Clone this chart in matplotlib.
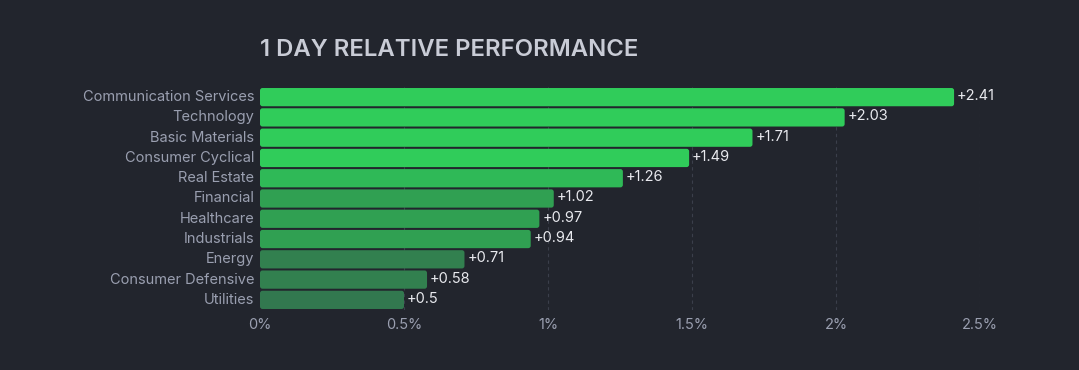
import matplotlib.pyplot as plt
from matplotlib.patches import FancyBboxPatch

sectors = [
    "Communication Services", "Technology", "Basic Materials",
    "Consumer Cyclical", "Real Estate", "Financial", "Healthcare",
    "Industrials", "Energy", "Consumer Defensive", "Utilities",
]
changes = [2.41, 2.03, 1.71, 1.49, 1.26, 1.02, 0.97, 0.94, 0.71, 0.58, 0.5]
value_labels = ["+2.41", "+2.03", "+1.71", "+1.49", "+1.26", "+1.02",
                "+0.97", "+0.94", "+0.71", "+0.58", "+0.5"]
bar_colors = ["#30cc5a", "#30cc5a", "#30cc5a", "#30cc5a", "#2fb957",
              "#30a052", "#30a052", "#30a052", "#32804f", "#32804f",
              "#32784f"]
x_ticks = [0, 0.5, 1, 1.5, 2, 2.5]
x_tick_labels = ["0%", "0.5%", "1%", "1.5%", "2%", "2.5%"]

bg = "#22252d"
plt.rcParams["font.family"] = ["Inter", "DejaVu Sans"]

fig = plt.figure(figsize=(10.79, 3.7), dpi=100, facecolor=bg)
ax = fig.add_axes([260 / 1079, 1 - 310 / 370, 720 / 1079, 223 / 370])
ax.set_facecolor(bg)

ypos = list(range(len(sectors)))
bars = ax.barh(ypos, changes, height=0.9, color=bar_colors, zorder=2)

# swap plain rectangles for slightly rounded ones
px_x = 720 / 2.5
px_y = 223 / len(sectors)
for rect in bars:
    rect.set_visible(False)
    patch = FancyBboxPatch(
        (rect.get_x(), rect.get_y()), rect.get_width(), rect.get_height(),
        boxstyle="round,pad=0,rounding_size=%f" % (2.5 / px_x),
        mutation_aspect=px_x / px_y,
        facecolor=rect.get_facecolor(), edgecolor="none", zorder=2,
    )
    ax.add_patch(patch)

for y, v, lab in zip(ypos, changes, value_labels):
    ax.text(v + 0.01, y - 0.05, lab, va="center", ha="left",
            color="#e8e9ee", fontsize=10.5, zorder=3)

ax.set_xlim(0, 2.5)
ax.set_ylim(len(sectors) - 0.5, -0.5)
ax.set_xticks(x_ticks)
ax.set_xticklabels(x_tick_labels)
ax.set_yticks(ypos)
ax.set_yticklabels(sectors)
ax.tick_params(axis="both", length=0, colors="#9a9fb0", labelsize=10.5)
ax.tick_params(axis="y", pad=4)
ax.tick_params(axis="x", pad=6)
for lab in ax.get_yticklabels():
    lab.set_va("center")

for x in x_ticks[1:]:
    ax.axvline(x, color="#3b3f4b", linestyle=(0, (3, 3)), linewidth=0.8,
               zorder=1)

for s in ax.spines.values():
    s.set_visible(False)

fig.text(260 / 1079, 1 - 50 / 370, "1 DAY RELATIVE PERFORMANCE",
         fontsize=17.2, fontweight="semibold", color="#c9ccd6",
         ha="left", va="center")

fig.savefig("out.png", dpi=100, facecolor=bg)
